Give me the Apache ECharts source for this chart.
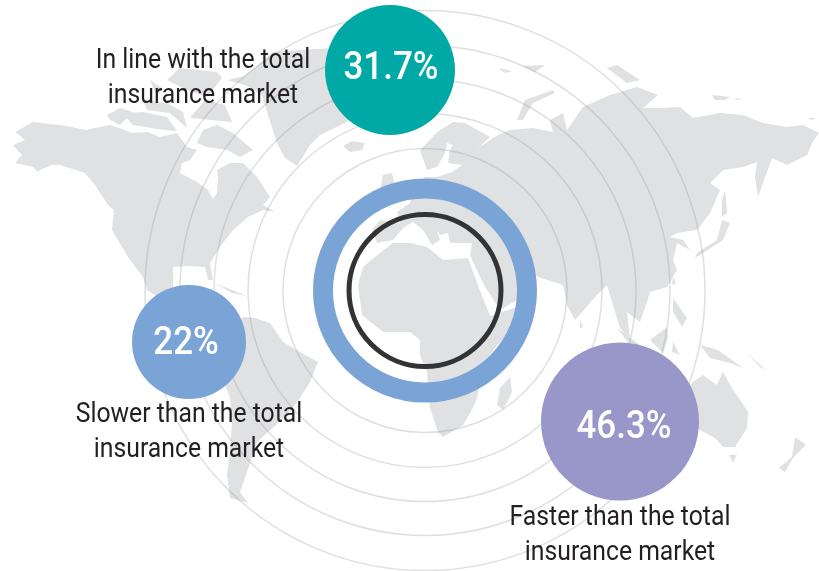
<!DOCTYPE html>
<html>
<head>
<meta charset="utf-8">
<title>Growth against the total insurance market</title>
<script src="https://cdn.jsdelivr.net/npm/echarts@6/dist/echarts.min.js"></script>
<style>
  html, body { margin: 0; padding: 0; background: #fff; }
  #chart { width: 819px; height: 571px; }
</style>
</head>
<body>
<div id="chart"></div>
<script>
// chart values
const shares = [31.7, 22, 46.3];
const captions = [
  'In line with the total\ninsurance market',
  'Slower than the total\ninsurance market',
  'Faster than the total\ninsurance market'
];

// layout, in map units (the map below is 819 x 571 units)
const bubbleCentres = [[390, 70], [189, 342], [620, 421.5]];
const bubbleSizes = [130, 114, 158];
const bubbleColors = ['#00a9a5', '#7ba4d6', '#9997c9'];
const valueCentres = [[391, 69], [186, 344.5], [624, 428]];
const captionCentres = [[203, 79], [189, 432.5], [620, 535.5]];
const ringCentre = [425, 290.5];
const ringSizes = [284, 354, 422, 490, 560];

// backdrop land shapes, traced roughly
const northAmerica = [[15,132],[33,122],[50,124],[67,126],[85,130],[100,127],[110,125],[122,129],[132,133],[147,132],[160,137],[177,133],[187,147],[197,150],[190,160],[182,163],[180,173],[197,182],[208,190],[213,199],[217,193],[218,177],[217,170],[230,163],[243,163],[257,177],[270,197],[263,205],[275,212],[263,210],[248,217],[240,224],[233,230],[220,247],[210,263],[213,280],[208,280],[205,267],[190,266],[173,267],[173,287],[190,300],[215,310],[215,318],[195,312],[170,305],[147,290],[143,277],[130,260],[112,230],[114,210],[108,205],[95,185],[85,173],[60,165],[52,165],[40,170],[20,188],[38,172],[33,167],[15,163],[22,155],[13,145],[25,140]];
const greenland = [[227,80],[245,76],[262,62],[273,52],[300,50],[335,48],[370,80],[360,112],[345,123],[320,135],[310,145],[297,166],[285,158],[277,143],[268,115],[262,95],[245,85]];
const arcticIslands = [
  [[107,115],[120,108],[133,112],[120,125],[110,120]],
  [[122,113],[143,112],[167,117],[177,131],[157,129],[133,125]],
  [[143,100],[167,103],[183,112],[187,128],[170,113],[147,110]],
  [[167,80],[180,68],[217,72],[222,78],[207,97],[187,90]],
  [[150,80],[162,88],[157,97]],
  [[197,143],[203,130],[217,125],[233,133],[253,150],[240,157],[227,150],[207,147]],
  [[190,118],[205,100],[225,105],[232,122],[212,120]],
  [[343,146],[352,141],[365,143],[362,150],[350,152]]
];
const southAmerica = [[243,317],[255,318],[270,323],[283,342],[300,352],[318,362],[310,382],[300,398],[287,415],[257,442],[247,472],[240,492],[248,503],[230,498],[227,475],[230,452],[232,422],[230,398],[220,370],[225,340]];
const caribbean = [[215,283],[232,290],[247,296],[232,293]];
const eurasia = [[453,122],[465,123],[490,137],[478,148],[498,135],[510,130],[533,128],[553,132],[550,120],[563,113],[567,130],[583,107],[610,95],[637,87],[658,95],[643,108],[663,108],[680,107],[693,118],[720,113],[743,115],[763,123],[787,127],[803,125],[819,133],[812,143],[807,155],[787,165],[772,158],[758,197],[755,177],[757,162],[743,167],[723,170],[710,183],[720,190],[710,213],[697,230],[677,233],[670,237],[683,240],[690,250],[677,243],[673,260],[677,270],[667,287],[650,292],[647,302],[640,322],[627,312],[630,340],[620,328],[613,305],[607,285],[597,295],[575,320],[567,305],[563,285],[557,283],[538,277],[530,270],[533,283],[535,295],[530,305],[517,300],[500,310],[484,285],[474,264],[470,255],[472,243],[450,243],[448,233],[440,235],[437,230],[440,240],[432,245],[423,230],[413,222],[403,228],[393,240],[377,243],[372,230],[380,220],[400,223],[397,212],[410,203],[415,190],[425,177],[430,177],[437,177],[437,167],[427,170],[420,150],[427,143],[437,132]];
const eurasiaHoles = [
  [[463,217],[492,227],[487,232],[465,227]],
  [[445,153],[437,167],[437,177],[452,172],[462,165],[448,163],[450,150],[453,145],[447,143]]
];
const africa = [[363,267],[380,253],[393,243],[410,243],[427,247],[443,260],[468,258],[479,288],[490,316],[517,307],[530,318],[497,345],[483,365],[477,398],[473,408],[463,425],[443,437],[438,432],[430,408],[428,385],[427,372],[420,355],[420,340],[410,332],[383,332],[362,315],[358,285]];
const eastIslands = [
  [[510,377],[512,392],[503,410],[497,405],[500,388]],
  [[383,175],[392,173],[397,195],[387,198],[380,190]],
  [[498,68],[513,71],[505,73]],
  [[523,66],[545,65],[535,72]],
  [[517,120],[525,100],[553,90],[555,93],[533,103],[523,120]],
  [[607,68],[617,65],[640,80],[627,83]],
  [[712,95],[730,97],[725,100],[715,100]],
  [[733,98],[743,99],[738,100]],
  [[807,118],[815,118],[812,120]],
  [[725,190],[727,213],[722,217],[722,200]],
  [[722,220],[730,223],[723,240],[703,253],[695,258],[697,253],[717,240]],
  [[673,277],[676,283],[672,285]],
  [[673,298],[687,318],[682,327],[673,312]],
  [[617,328],[640,345],[630,345]],
  [[650,340],[667,327],[668,338],[663,353]],
  [[673,342],[680,355],[672,352]],
  [[700,345],[718,350],[743,368],[730,363],[710,358]],
  [[747,353],[766,370],[760,367]],
  [[580,320],[583,327],[580,328]]
];
const australia = [[693,382],[703,375],[717,385],[723,372],[732,388],[748,412],[747,428],[735,447],[723,447],[715,438],[700,430],[680,420],[680,400]];
const southIslands = [
  [[729,455],[737,455],[733,463]],
  [[795,437],[806,445],[793,458],[785,472],[779,468],[792,457]]
];

function land(name, rings) {
  return {
    type: 'Feature',
    properties: { name: name },
    geometry: { type: 'Polygon', coordinates: rings }
  };
}

const features = [
  land('North America', [northAmerica]),
  land('Greenland', [greenland]),
  land('South America', [southAmerica]),
  land('Caribbean', [caribbean]),
  land('Eurasia', [eurasia].concat(eurasiaHoles)),
  land('Africa', [africa]),
  land('Australia', [australia])
];
arcticIslands.concat(eastIslands, southIslands).forEach((shape, i) => {
  features.push(land('Island ' + i, [shape]));
});

echarts.registerMap('land', { type: 'FeatureCollection', features: features });

const chart = echarts.init(document.getElementById('chart'), null, { renderer: 'canvas' });

// the reference type is condensed, so the text is narrowed when drawn
function narrowText(texts, centres, font, lineHeight, color, squeeze) {
  return {
    type: 'custom',
    coordinateSystem: 'geo',
    silent: true,
    z: 10,
    data: centres,
    renderItem: (params, api) => {
      const point = api.coord(centres[params.dataIndex]);
      return {
        type: 'text',
        x: point[0],
        y: point[1],
        scaleX: squeeze,
        style: {
          text: texts[params.dataIndex],
          fill: color,
          font: font + ' Roboto, "Liberation Sans", sans-serif',
          lineHeight: lineHeight,
          align: 'center',
          verticalAlign: 'middle'
        }
      };
    }
  };
}

const options = {
  animation: false,
  backgroundColor: '#fff',
  geo: {
    map: 'land',
    projection: { project: p => p, unproject: p => p },
    boundingCoords: [[0, 0], [819, 571]],
    left: 0,
    top: 0,
    width: 819,
    height: 571,
    silent: true,
    roam: false,
    itemStyle: { areaColor: '#e0e1e3', borderWidth: 0 },
    emphasis: { disabled: true },
    select: { disabled: true }
  },
  series: [
    {
      name: 'rings',
      type: 'scatter',
      coordinateSystem: 'geo',
      silent: true,
      symbol: 'circle',
      data: ringSizes.map(size => ({ value: ringCentre, symbolSize: size })),
      itemStyle: { color: 'rgba(0,0,0,0)', borderColor: 'rgba(150,150,150,0.3)', borderWidth: 1.5, opacity: 1 }
    },
    {
      name: 'blue ring',
      type: 'scatter',
      coordinateSystem: 'geo',
      silent: true,
      data: [{ value: ringCentre, symbolSize: 204 }],
      itemStyle: { color: 'rgba(0,0,0,0)', borderColor: '#7ba4d6', borderWidth: 20, opacity: 1 }
    },
    {
      name: 'black ring',
      type: 'scatter',
      coordinateSystem: 'geo',
      silent: true,
      data: [{ value: ringCentre, symbolSize: 152 }],
      itemStyle: { color: 'rgba(0,0,0,0)', borderColor: '#333333', borderWidth: 5, opacity: 1 }
    },
    {
      name: 'shares',
      type: 'scatter',
      coordinateSystem: 'geo',
      silent: true,
      data: shares.map((share, i) => ({
        value: bubbleCentres[i],
        symbolSize: bubbleSizes[i],
        itemStyle: { color: bubbleColors[i], opacity: 1 }
      }))
    },
    narrowText(shares.map(share => share + '%'), valueCentres, '500 38px', 38, '#fff', 0.92),
    narrowText(captions, captionCentres, '27.5px', 35, '#231f20', 0.9)
  ]
};

chart.setOption(options);
</script>
</body>
</html>
